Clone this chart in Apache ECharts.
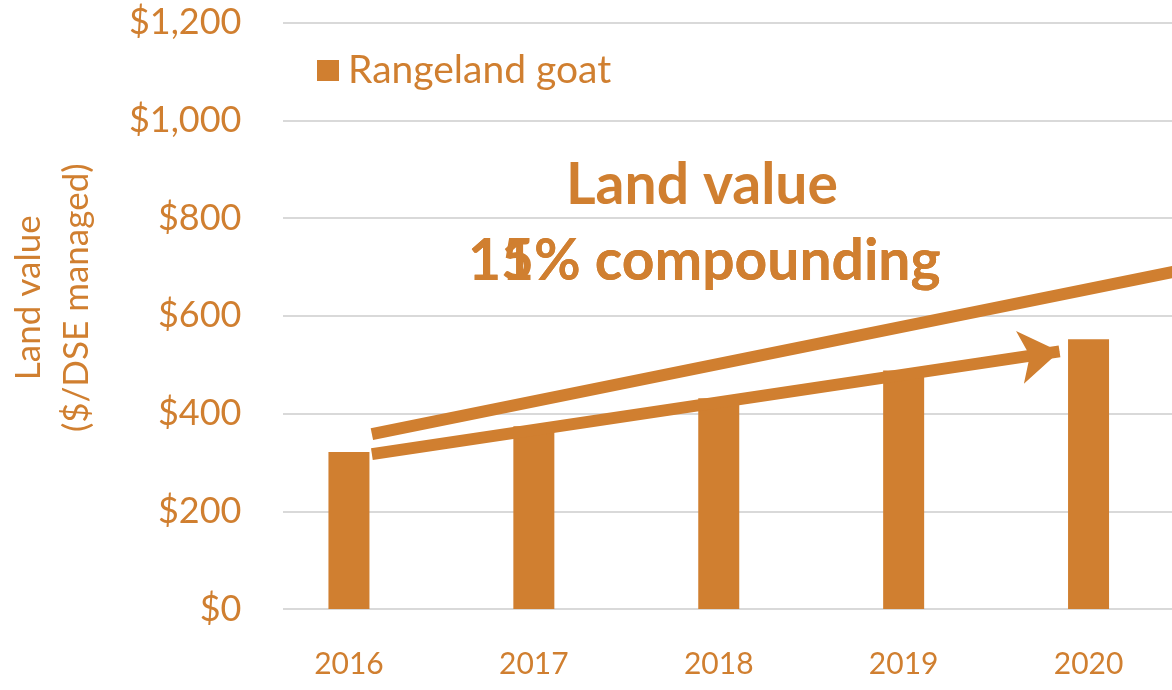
<!DOCTYPE html>
<html>
<head>
<meta charset="utf-8">
<title>Land value - Rangeland goat</title>
<script src="https://cdn.jsdelivr.net/npm/echarts@6/dist/echarts.min.js"></script>
<style>
  html, body { margin: 0; padding: 0; background: #fff; }
  #land_value { width: 1172px; height: 690px; }
</style>
</head>
<body>
<div id="land_value"></div>
<script>
/* chart data */
var years = ['2016', '2017', '2018', '2019', '2020'];
var goatValues = [321, 374, 431, 488, 552];
var yTicks = [0, 200, 400, 600, 800, 1000, 1200];
/* trend arrows, [category position, $ value] */
var upperTrend = [[0.124, 358], [4.5, 693]];
var lowerTrend = [[0.124, 317], [3.843, 527]];

(function(){
	var orange = '#D07F30';
	var font = 'Lato';
	var myChart = echarts.init(document.getElementById('land_value'));
	var option = {
		animation: false,
		legend: {
			data: ['Rangeland goat'],
			left: 312,
			top: 46,
			itemWidth: 22,
			itemHeight: 21,
			itemGap: 10,
			icon: 'rect',
			textStyle: { color: orange, fontSize: 39, fontFamily: font, padding: [0, 0, 0, 4] }
		},
		grid: [
			{ left: 256.5, right: -9, top: 22.5, bottom: 81, outerBoundsMode: 'none', containLabel: false },
			{ left: 283, right: 0, top: 22.5, bottom: 81, outerBoundsMode: 'none', containLabel: false }
		],
		xAxis: [
			{
				type: 'category',
				gridIndex: 0,
				data: years,
				axisLine: { show: false },
				axisTick: { show: false },
				axisLabel: { color: orange, fontSize: 30, fontFamily: font, margin: 40 }
			},
			{ type: 'value', gridIndex: 1, show: false, min: 0, max: 1 },
			{ type: 'value', gridIndex: 0, show: false, min: -0.5, max: 4.5 }
		],
		yAxis: [
			{
				type: 'value',
				gridIndex: 0,
				min: yTicks[0],
				max: yTicks[yTicks.length - 1],
				interval: 200,
				name: 'Land value\n($/DSE managed)',
				nameLocation: 'middle',
				nameRotate: 90,
				nameGap: 156,
				nameTextStyle: { color: orange, fontSize: 35, fontFamily: font, lineHeight: 48, padding: [0, 0, 0, 36] },
				axisLine: { show: false },
				axisTick: { show: false },
				splitLine: { show: false },
				axisLabel: {
					color: orange, fontSize: 36, fontFamily: font, margin: 15,
					formatter: function (v) { return '$' + v.toLocaleString('en-US'); }
				}
			},
			{
				type: 'value',
				gridIndex: 1,
				min: yTicks[0],
				max: yTicks[yTicks.length - 1],
				interval: 200,
				axisLine: { show: false },
				axisTick: { show: false },
				axisLabel: { show: false },
				splitLine: { show: true, lineStyle: { color: '#D9D9D9', width: 2 } }
			}
		],
		graphic: [
			{
				type: 'text', left: 566, top: 157, silent: true,
				style: { text: 'Land value', fill: orange, font: 'bold 57px Lato' }
			},
			{
				type: 'text', left: 468, top: 233, silent: true,
				style: { text: '15% compounding', fill: orange, font: 'bold 57px Lato' }
			},
			{
				type: 'text', left: 468, top: 233, silent: true,
				style: { text: '11% compounding', fill: orange, font: 'bold 57px Lato' }
			}
		],
		series: [
			{
				name: 'Rangeland goat',
				type: 'bar',
				xAxisIndex: 0,
				yAxisIndex: 0,
				barWidth: 41,
				itemStyle: { color: orange },
				z: 3,
				data: goatValues
			},
			{
				name: 'trend',
				type: 'line',
				xAxisIndex: 2,
				yAxisIndex: 0,
				data: [],
				z: 4,
				markLine: {
					silent: true,
					symbol: ['none', 'none'],
					label: { show: false },
					lineStyle: { color: orange, width: 12, type: 'solid' },
					data: [
						[{ coord: upperTrend[0] }, { coord: upperTrend[1] }],
						[{ coord: lowerTrend[0] }, { coord: lowerTrend[1], symbol: 'arrow', symbolSize: [40, 40] }]
					]
				}
			}
		]
	};
	myChart.setOption(option);
})();
</script>
</body>
</html>
